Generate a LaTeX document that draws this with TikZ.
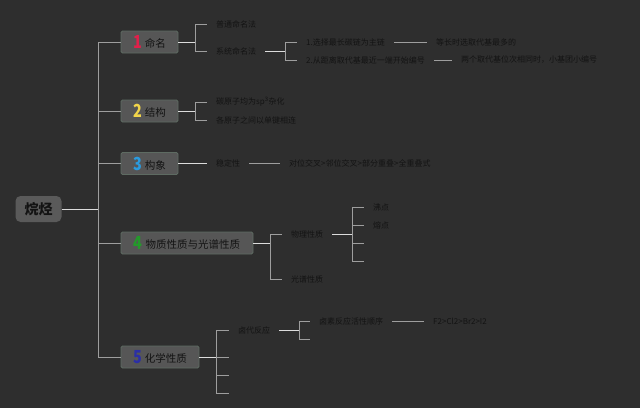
\documentclass[tikz,border=0pt]{standalone}
\usepackage{fontspec}
\setmainfont{Noto Sans CJK SC}
\usepackage{xcolor}
\usetikzlibrary{positioning}

\definecolor{bgdark}{HTML}{2E2E2E}
\definecolor{boxgray}{HTML}{565656}
\definecolor{boxedge}{HTML}{5E6B62}
\definecolor{rootgray}{HTML}{5A5A5A}
\definecolor{inkdark}{HTML}{131313}
\definecolor{linegray}{HTML}{9E9E9E}
\definecolor{linelight}{HTML}{DCDCDC}
\definecolor{numred}{HTML}{E0204A}
\definecolor{numyellow}{HTML}{F2D54A}
\definecolor{numblue}{HTML}{2A9BDF}
\definecolor{numgreen}{HTML}{239A2A}
\definecolor{numindigo}{HTML}{2B2FA6}

\newcommand{\topicnum}[2]{\raisebox{-1pt}{\color{#1}\scalebox{0.8}[1]{\fontsize{18}{18}\selectfont\bfseries #2}}\hspace{3pt}}

\begin{document}
\begin{tikzpicture}[x=1pt, y=-1pt, font=\fontsize{8}{9}\selectfont,
  rootbox/.style={fill=rootgray, rounded corners=5pt, minimum width=46pt, minimum height=26pt,
    inner sep=0pt, text=inkdark, font=\fontsize{14}{14}\selectfont\bfseries},
  topic/.style={fill=boxgray, draw=boxedge, line width=0.8pt, rounded corners=1.5pt,
    minimum height=22pt, inner sep=0pt, text=inkdark, font=\fontsize{10.5}{11}\selectfont},
  leaf/.style={anchor=west, inner xsep=9pt, inner ysep=1pt, text=inkdark},
  link/.style={draw=linegray, line width=0.9pt},
  mainlink/.style={draw=linelight, line width=0.9pt}]

  \fill[bgdark] (0,0) rectangle (640,408);
  \useasboundingbox (0,0) rectangle (640,408);

  % root and topics
  \node[rootbox] (root) at (38.5,209) {烷烃};
  \node[topic, minimum width=57pt] (t1) at (149.5,42) {\topicnum{numred}{1}命名};
  \node[topic, minimum width=57pt] (t2) at (149.5,111) {\topicnum{numyellow}{2}结构};
  \node[topic, minimum width=57pt] (t3) at (149.5,163.5) {\topicnum{numblue}{3}构象};
  \node[topic, minimum width=132pt] (t4) at (187,243) {\topicnum{numgreen}{4}物质性质与光谱性质};
  \node[topic, minimum width=78pt] (t5) at (160,357) {\topicnum{numindigo}{5}化学性质};

  \coordinate (trunk) at (98,209);
  \draw[mainlink] (root.east) -- (trunk);
  \foreach \t in {t1,t2,t3,t4,t5}
    \draw[link] (trunk) |- (\t.west);

  % 1 naming
  \node[leaf] (a1) at (207,24) {普通命名法};
  \node[leaf] (a2) at (207,51) {系统命名法};
  \node[leaf] (b1) at (297,42) {1.选择最长碳链为主链};
  \node[leaf] (b2) at (297,60) {2.从距离取代基最近一端开始编号};
  \node[leaf] (c1) at (427,42) {等长时选取代基最多的};
  \node[leaf] (c2) at (452,60) {两个取代基位次相同时，小基团小编号};
  \coordinate (k1) at (195,42);
  \coordinate (k2) at (285,51);
  \draw[mainlink] (t1.east) -- (k1);
  \draw[link] (k1) |- (a1.west) (k1) |- (a2.west);
  \draw[mainlink] (a2.east) -- (k2);
  \draw[link] (k2) |- (b1.west) (k2) |- (b2.west);
  \draw[link] (b1.east) -- (c1.west);
  \draw[link] (b2.east) -- (c2.west);

  % 2 structure
  \node[leaf] (d1) at (207,102) {碳原子均为sp\textsuperscript{3}杂化};
  \node[leaf] (d2) at (207,120) {各原子之间以单键相连};
  \coordinate (k3) at (195,111);
  \draw[mainlink] (t2.east) -- (k3);
  \draw[link] (k3) |- (d1.west) (k3) |- (d2.west);

  % 3 conformation
  \node[leaf] (e1) at (207,163.5) {稳定性};
  \node[leaf] (e2) at (280,163.5) {对位交叉>邻位交叉>部分重叠>全重叠式};
  \draw[mainlink] (t3.east) -- (e1.west);
  \draw[link] (e1.east) -- (e2.west);

  % 4 properties
  \node[leaf] (f1) at (282,234) {物理性质};
  \node[leaf] (f2) at (282,279) {光谱性质};
  \node[leaf] (g1) at (364,207) {沸点};
  \node[leaf] (g2) at (364,225) {熔点};
  \coordinate (g3) at (364,243);
  \coordinate (g4) at (364,261);
  \coordinate (k4) at (270,243);
  \coordinate (k5) at (352,234);
  \draw[mainlink] (t4.east) -- (k4);
  \draw[link] (k4) |- (f1.west) (k4) |- (f2.west);
  \draw[mainlink] (f1.east) -- (k5);
  \draw[link] (k5) |- (g1.west) (k5) |- (g2.west) (k5) |- (g3) (k5) |- (g4);

  % 5 chemistry
  \node[leaf] (h1) at (229,330) {卤代反应};
  \coordinate (h2) at (229,357);
  \coordinate (h3) at (229,375);
  \coordinate (h4) at (229,393);
  \node[leaf] (i1) at (310,321) {卤素反应活性顺序};
  \coordinate (i2) at (310,339);
  \node[leaf] (j1) at (424,321) {F2>Cl2>Br2>I2};
  \coordinate (k6) at (216,357);
  \coordinate (k7) at (299,330);
  \draw[mainlink] (t5.east) -- (k6);
  \draw[link] (k6) |- (h1.west) (k6) |- (h2) (k6) |- (h3) (k6) |- (h4);
  \draw[mainlink] (h1.east) -- (k7);
  \draw[link] (k7) |- (i1.west) (k7) |- (i2);
  \draw[link] (i1.east) -- (j1.west);
\end{tikzpicture}
\end{document}
